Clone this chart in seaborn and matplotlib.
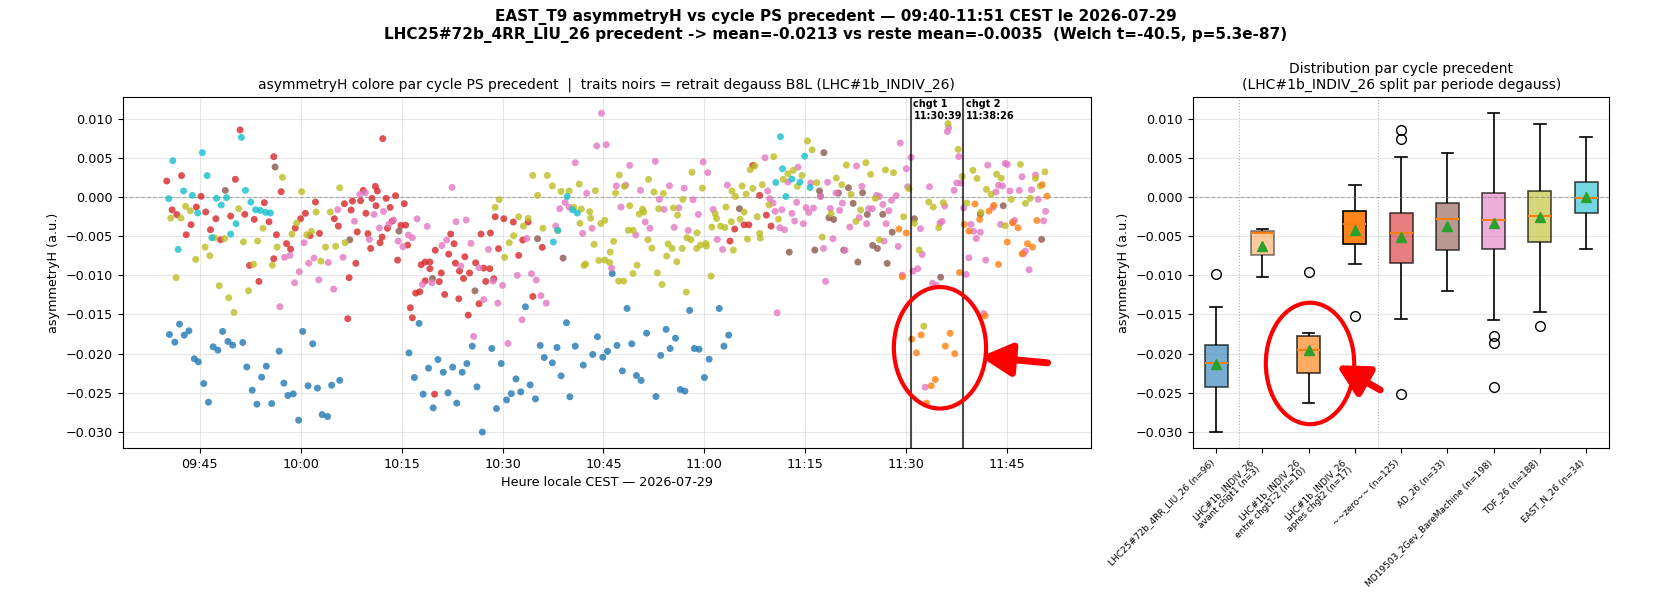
import pandas as pd
import seaborn as sns
import matplotlib.pyplot as plt
import matplotlib.dates as mdates
from matplotlib.patches import Ellipse
from matplotlib.colors import to_rgba

# times = minutes after 09:40 CEST, values = asymmetryH x 1e-3
lhc25_t = [0.5, 1.3, 2.0, 2.7, 3.4, 4.2, 4.8, 5.6, 6.3, 7.0, 7.7, 8.4, 9.2, 9.9, 11.4, 12.0, 12.8, 13.5, 14.2, 14.9,
           15.7, 16.8, 17.5, 18.1, 18.9, 19.7, 20.3, 21.1, 21.8, 22.5, 23.2, 24.0, 24.6, 25.8,
           36.1, 36.9, 37.6, 38.2, 39.0, 39.7, 40.4, 41.2, 41.9, 42.6, 43.2, 44.0, 44.7, 45.5, 46.2, 48.4,
           49.1, 49.8, 50.6, 51.3, 52.0, 52.7, 53.4, 54.1, 54.9, 55.6, 56.2, 57.4, 58.1, 58.7, 59.5, 60.0, 47.0,
           60.8, 62.0, 63.4, 64.1, 64.9, 65.6, 66.3, 67.0, 67.8, 68.5, 69.2, 69.9, 70.6, 71.4, 72.8, 73.5,
           74.3, 74.9, 75.7, 76.4, 77.1, 77.8, 78.5, 79.2, 80.0, 80.7, 82.2, 82.9, 83.6]
lhc25_v = [-17.55, -18.53, -16.23, -17.63, -17.08, -20.65, -21.04, -23.81, -26.19, -19.12, -19.55, -17.16, -18.44,
           -18.91, -18.57, -21.7, -24.66, -26.45, -23.0, -21.6, -26.37, -19.68, -23.76, -25.34, -25.13, -28.49,
           -17.16, -24.1, -18.74, -24.4, -27.77, -28.02, -24.02, -23.4,
           -19.9, -23.04, -16.14, -25.17, -21.85, -26.92, -20.75, -22.37, -25.0, -21.72, -26.31, -22.37, -21.26,
           -19.04, -24.23, -19.34, -27.0, -21.26, -25.9, -25.1, -23.22, -24.87, -14.02, -23.98, -25.77, -18.95,
           -20.49, -21.17, -19.21, -22.83, -16.05, -25.5, -30.0,
           -19.04, -21.46, -20.1, -17.84, -20.45, -19.7, -9.77, -18.95, -22.2, -14.23, -18.74, -22.79, -23.42,
           -17.38, -25.47, -20.22, -16.9, -19.34, -18.02, -24.57, -24.78, -14.48, -19.34, -19.43, -23.04, -20.7,
           -14.23, -19.04, -17.63]

indiv_t = [108.9, 109.4, 110.0, 110.8, 111.5, 112.2, 113.0, 113.7, 114.3, 115.8, 116.5, 117.2, 117.9,
           118.6, 119.3, 120.2, 120.9, 121.7, 122.3, 123.0, 123.7, 125.0, 125.8, 126.6, 127.2, 128.0, 128.75,
           129.4, 130.2, 130.9]
indiv_v = [-4.1, -10.2, -4.6, -18.14, -19.9, -17.6, -26.3, -24.1, -23.3, -19.04, -17.4, -20.0, -9.64,
           -3.5, -4.36, -0.9, -2.87, -15.17, -1.8, -1.08, -8.6, -5.76, -3.3, -3.93, -7.25, -5.97, -6.4,
           -3.0, 1.56, 0.1]

zero_t = [0.1, 0.9, 1.6, 2.3, 3.0, 3.7, 4.5, 5.2, 5.9, 6.6, 7.4, 8.1, 9.6, 10.3, 11.0, 11.7, 12.4, 13.1, 13.8,
          14.6, 15.3, 16.0, 16.4, 16.0, 17.1, 17.9, 18.5, 19.2, 20.0, 20.7, 21.4, 22.2, 22.8, 25.0, 25.6,
          26.5, 27.2, 27.0, 27.5, 27.7, 28.2, 28.4, 28.9, 29.3, 29.7, 30.0, 30.4, 30.6, 31.1, 31.4, 31.2, 31.8,
          32.1, 32.2, 32.7, 32.9, 33.3, 33.6, 34.1, 34.4, 34.9, 35.4, 35.6, 35.9, 36.3, 36.6, 37.1, 37.7, 37.9,
          38.5, 38.5, 39.2, 39.2, 40.0, 40.6, 40.9, 41.4, 42.0, 42.3, 42.8, 43.0, 43.5, 43.6, 44.2, 44.4, 45.1,
          44.9, 46.0, 46.5, 46.8, 47.2, 47.5, 48.1, 48.2, 48.7, 48.9, 49.4, 50.2, 51.6, 52.4, 53.0, 53.8, 54.5,
          55.9, 39.9,
          83.8, 84.5, 85.9, 86.6, 87.2, 88.2, 89.2, 89.9]
zero_v = [2.03, -1.65, -2.25, 2.72, -4.82, -3.54, -1.29, 0.08, -1.92, -4.18, -2.78, -5.46, -2.44, 2.25, 8.55,
          -2.22, -8.74, -2.86, -10.78, -0.73, -3.16, 5.14, -4.82, -7.89, 0.67, -5.96, -6.65, -3.97, -2.78, -2.09,
          -4.94, -0.65, -4.65, -2.78, -3.72,
          -0.86, -10.3, -15.54, -1.67, -0.52, -8.47, -4.46, -0.48, 0.84, -2.09, -4.69, -6.57, -0.18, 1.35, 0.76,
          -1.12, -5.84, -5.12, 7.44, -0.18, -4.0, -1.33, -3.08, 0.16, -8.06, -3.63, -0.86, -3.59, -6.14, -14.14,
          -15.42, -12.27, -12.1, -8.65, -8.3, -10.7, -8.3, -9.16, -6.8, -10.8, -9.7, -12.44, -7.3, -4.73, -5.97,
          -8.44, -13.0, -9.46, -10.4, -7.63, -9.7, -15.08, -8.4, -13.63, -4.73, -9.08, -10.78, -9.16, -4.6,
          -10.44, -2.53, -6.6, -2.78, -3.2, -7.46, -5.5, -3.2, -12.7, -6.43, -25.17,
          -5.63, -4.1, -3.56, -3.56, 4.03, 0.2, -2.32, -3.72]

ad_t = [8.8, 16.2, 27.3, 34.6, 39.6, 45.9, 55.2, 59.0, 85.2, 92.6,
        97.75, 96.4, 97.1, 97.25, 98.5, 99.2, 99.9, 100.7, 101.4, 102.1, 102.8, 103.5, 104.2, 105.0, 105.7,
        106.5, 107.9, 107.15, 111.2, 115.1, 121.0, 124.4, 130.1]
ad_v = [0.84, 3.82, -5.47, -4.36, -10.4, -11.98, -5.33, -7.8, -1.5, -7.04,
        5.65, -6.78, 0.76, 0.1, -2.65, -2.87, 0.5, -6.78, 1.17, -0.82, -8.31, 0.54, -2.23, -6.18, -6.57,
        -2.22, -4.5, -8.48, -2.78, -10.24, -2.2, -1.12, -5.42]

md_t = [16.9, 17.6, 18.4, 19.1, 19.8, 20.5, 21.2, 22.0, 22.7, 24.1, 24.9, 25.5,
        26.3, 28.0, 28.8, 29.6, 30.2, 30.9, 31.7, 32.3, 33.1, 33.8, 34.5, 35.2, 36.0, 36.6, 37.3, 38.1, 38.8,
        39.5, 41.0, 41.7, 42.5, 43.1, 43.8, 44.6, 45.3, 45.7, 46.5, 47.2, 47.9, 48.6, 49.3, 50.0, 50.8, 52.2,
        52.9, 53.6, 54.3, 55.0, 55.7, 56.5, 57.9, 58.5, 59.3, 59.9,
        60.8, 61.9, 62.5, 63.3, 64.0, 64.7, 65.4, 66.2, 66.9, 67.6, 68.3, 68.9, 69.8, 70.5, 71.2, 71.9, 72.7,
        73.3, 74.0, 74.8, 75.5, 76.2, 77.0, 77.6, 78.3, 79.1, 79.8, 80.5, 81.3, 81.9, 82.7, 83.4, 89.0, 89.4,
        89.7, 90.2, 90.5, 90.8, 91.2, 91.5, 91.9, 92.4, 93.0, 93.4, 93.7, 93.9,
        94.7, 95.1, 95.5, 95.8, 96.2, 97.25, 97.7, 98.0, 98.3, 98.7, 99.1, 99.55, 100.1, 100.5, 100.9, 101.6,
        102.6, 103.0, 103.4, 104.1, 104.4, 104.95, 105.6, 106.0,
        106.5, 106.7, 107.0, 107.4, 107.8, 108.5, 109.1, 108.8, 109.4, 110.0, 110.2, 110.7, 111.0, 111.7,
        112.1, 112.35, 113.45, 113.9, 114.5, 115.0, 115.3, 115.7, 116.1, 116.3, 117.1, 117.5, 117.8, 118.1,
        118.5, 118.9, 119.3, 119.6, 120.0, 120.4, 121.0, 121.5, 121.8, 122.1, 122.9, 123.3, 123.7, 124.0,
        124.3, 124.7, 125.0, 125.4, 125.8, 126.1, 126.8, 127.2, 127.4, 127.7, 128.25, 128.6, 129.2, 129.6,
        130.4, 130.7, 112.8]
md_v = [-14.0, -7.71, -7.46, -10.95, -9.54, -5.84, -8.45, -7.8, -10.58, -8.36, -11.77, -1.63,
        -7.7, -3.1, 0.33, 0.54, -5.42, -2.23, -3.97, -1.85, -3.5, -2.95, -5.63, -6.35, -4.86, -5.2, -2.8,
        -11.17, -3.76, -10.95, -6.2, -5.5, 1.22, -3.16, -8.82, -2.95, -5.93, -17.8, -9.04, -13.1, -6.7,
        -10.74, -13.55, -11.29, -18.7, -10.0, -15.67, -5.3, -9.8, -10.6, -12.6, -13.55, -3.72, -1.5, -0.7, -1.3,
        4.37, -4.65, 0.46, -4.0, 6.5, 10.68, 6.67, -9.08, 1.4, -1.29, 1.51, 4.03, -4.86, 0.84, -3.2, -4.0,
        4.54, -0.31, -1.59, 1.43, -3.88, -1.4, 1.13, -4.27, -0.35, -2.23, 4.46, 3.1, -1.59, -5.42, -6.7, 1.51,
        5.0, 0.76, -0.22, -0.77, -1.84, -14.79, -3.92, -1.63, -4.18, 1.9, -2.1, -3.07, -0.69, 3.8,
        -3.42, -1.37, -1.97, 1.78, -1.41, 0.06, -6.57, -10.78, 1.87, -1.46, -5.33, 0.5, -1.72, -0.79, -6.82,
        -3.84, 3.95, -2.65, 1.35, -3.42, -1.5, -1.5, 0.2, 0.06,
        -0.96, -5.63, -3.41, -1.76, -0.43, 0.16, 6.88, -6.31, -9.97, 3.6, 1.3, 5.05, -9.46, -9.16, -4.05,
        -7.33, 1.3, -11.0, -11.3, -3.33, -3.12, -1.16, 8.33, 8.84, 0.84, 1.78, 5.16, 1.78, -1.41, -9.89,
        -7.76, -3.5, -4.38, -5.3, -4.5, -14.87, -8.06, 4.06, -1.33, 0.63, 1.49, -3.5, 1.4, 4.28, 4.15, 0.76,
        -3.2, -3.0, 0.84, 2.58, -7.25, -6.9, -9.3, 0.92, 2.79, -0.31, -3.04, -1.84, -24.28]

tof_t = [0.7, 1.5, 2.2, 2.9, 3.6, 4.4, 5.8, 6.5, 7.2, 7.9, 8.7, 9.3, 10.1, 10.8, 11.5, 12.25, 13.0, 13.6, 14.4,
         15.8, 16.5, 17.3, 18.7, 19.4, 20.15, 20.9, 21.6, 22.3, 23.0, 23.7, 24.4, 25.2, 25.8,
         26.6, 48.9, 49.5, 50.3, 51.0, 51.65, 52.4, 53.1, 53.8, 54.5, 55.2, 56.0, 56.65, 57.4, 58.2, 58.7,
         59.9, 60.6, 61.4, 61.7, 61.5, 62.1, 62.35, 62.95, 63.1, 63.6, 63.8, 64.3, 64.6, 65.2, 65.2, 65.9,
         66.0, 66.5, 66.8, 67.35, 67.25, 68.0, 68.1, 68.7, 68.9, 69.4, 69.4, 70.0, 70.3, 70.8, 71.0, 71.6,
         71.7, 72.2, 72.5, 73.0, 73.2, 73.7, 73.9, 74.4, 74.6, 75.2, 75.4, 75.9, 76.0, 76.7, 76.8, 77.3, 77.4,
         78.0, 78.15, 78.85, 78.9, 79.4, 79.7, 80.2, 80.3, 81.0, 81.1, 81.6, 81.8, 82.4, 83.05, 83.2, 84.0,
         84.1, 84.3, 84.6, 85.3, 85.6, 85.9, 86.2, 86.4, 86.8, 87.2, 87.5, 87.85, 88.2, 88.3, 88.6, 89.6,
         90.3, 91.0, 91.7, 92.4, 93.2, 93.8,
         94.5, 95.3, 96.0, 96.7, 97.5, 98.8, 99.6, 100.4, 101.1, 101.8, 102.5, 103.2, 104.0, 104.7, 105.4,
         106.0,
         106.9, 108.1, 109.6, 110.4, 111.2, 111.9, 113.35, 114.0, 114.8, 115.5, 116.2, 117.7, 118.3, 119.0,
         119.9, 120.5, 121.1, 121.9, 122.6, 123.4, 124.1, 124.7, 125.6, 126.95, 127.7, 128.4, 129.2, 129.9,
         130.6, 112.6]
tof_v = [-2.7, -10.3, -2.7, -1.2, -1.76, -7.97, -6.4, -7.5, -5.2, -11.33, -5.31, -12.87, -14.74, -1.5, -5.74,
         -11.97, -8.6, -5.63, -4.0, -8.7, -6.4, 2.5, -4.74, -3.34, 0.67, -4.82, -4.4, -1.93, -8.19, -6.4,
         -1.93, -6.3, 1.17,
         -5.84, -1.33, -0.35, -7.7, -5.84, -4.95, -2.53, -3.72, -2.74, 2.75, 0.2, -4.0, 2.75, 1.4, -4.3, 0.7,
         0.76, -1.33, 1.64, -1.55, -3.37, -8.74, -8.57, -1.88, -2.7, -6.05, 0.8, -8.1, -3.4, -2.98, -8.06,
         -8.36, -7.04, -5.67, 0.5, 2.8, -10.74, -10.74, 1.35, -4.25, -1.12, -4.25, -9.77, -8.7, -2.19, -1.55,
         -1.93, -5.46, 2.24, -6.53, 0.63, -9.7, -1.5, -11.17, 0.45, -7.55, -6.0, -6.57, -1.4, -8.27, -2.32,
         -6.57, -0.31, -12.14, -5.2, -5.46, 3.14, -6.57, -4.57, -6.14, 1.13, -5.93, -6.28, -10.1, -3.84,
         -2.15, -2.74, -3.72, -3.9, -1.29, -3.16, 0.76, -6.78, 0.06, -2.83, 1.4, -1.93, 0.37, -5.37, 3.48,
         1.09, 3.94, -2.53, -4.65, -5.25, 1.56, -1.03, 5.14, -2.83, 2.24, 2.95, 3.4, 1.35,
         2.75, 7.14, 6.0, 1.83, -5.12, -2.15, 2.41, 1.56, 4.07, 0.33, -3.12, -1.67, 4.37, 2.88, -0.18, -5.46,
         3.44, 3.1, -2.53, 1.05, -3.37, -6.78, -0.65, -1.29, -3.93, -0.73, 9.35, 6.07, 2.62, -0.78, 3.4,
         2.37, -1.97, 0.97, 0.33, 2.91, 2.4, -3.67, -0.31, 4.15, -0.82, -0.18, 2.37, 1.4, 3.2, -16.5]

eastn_t = [0.4, 1.0, 1.8, 2.6, 3.9, 4.7, 5.4, 6.1, 6.8, 7.5, 8.2, 9.0, 9.6, 10.4, 11.2, 11.8, 12.6, 13.3, 14.0,
           14.8, 15.5, 58.2, 57.55, 59.6, 60.4, 61.1, 91.3, 90.6, 91.6, 92.1, 93.0, 94.2, 94.9, 95.7]
eastn_v = [-0.22, 4.63, -6.7, 0.76, 0.2, -2.05, 5.65, 2.72, -5.2, -0.18, -1.03, -0.09, -4.74, -3.41, 7.6, 0.84,
           -0.65, -1.63, -1.72, -1.97, -2.05, -4.26, -5.75, 0.06, -1.63, -2.06, 7.69, 1.85, 3.6, 0.06, 2.28,
           1.89, 5.2, 1.2]

cycle_colors = {
    'LHC25#72b_4RR_LIU_26': '#1f77b4',
    'LHC#1b_INDIV_26': '#ff7f0e',
    '~~zero~~': '#d62728',
    'AD_26': '#8c564b',
    'MD19503_2Gev_BareMachine': '#e377c2',
    'TOF_26': '#bcbd22',
    'EAST_N_26': '#17becf',
}

box_order = ['LHC25#72b_4RR_LIU_26', 'avant', 'entre', 'apres', '~~zero~~', 'AD_26',
             'MD19503_2Gev_BareMachine', 'TOF_26', 'EAST_N_26']
box_labels = ['LHC25#72b_4RR_LIU_26 (n=96)', 'LHC#1b_INDIV_26\navant chgt1 (n=3)',
              'LHC#1b_INDIV_26\nentre chgt1-2 (n=10)', 'LHC#1b_INDIV_26\napres chgt2 (n=17)',
              '~~zero~~ (n=125)', 'AD_26 (n=33)', 'MD19503_2Gev_BareMachine (n=198)', 'TOF_26 (n=188)',
              'EAST_N_26 (n=34)']
box_colors = ['#1f77b4', '#ff7f0e', '#ff7f0e', '#ff7f0e', '#d62728', '#8c564b', '#e377c2', '#bcbd22', '#17becf']
box_alpha = [0.6, 0.4, 0.65, 0.95, 0.6, 0.6, 0.6, 0.6, 0.6]

base = pd.Timestamp('2026-07-29 09:40:00')
chgt1 = pd.Timestamp('2026-07-29 11:30:39')
chgt2 = pd.Timestamp('2026-07-29 11:38:26')

series = [
    ('LHC25#72b_4RR_LIU_26', lhc25_t, lhc25_v),
    ('~~zero~~', zero_t, zero_v),
    ('AD_26', ad_t, ad_v),
    ('MD19503_2Gev_BareMachine', md_t, md_v),
    ('TOF_26', tof_t, tof_v),
    ('EAST_N_26', eastn_t, eastn_v),
    ('LHC#1b_INDIV_26', indiv_t, indiv_v),
]
frames = []
for name, t, v in series:
    frames.append(pd.DataFrame({'cycle': name, 'minute': t, 'asym': v}))
df = pd.concat(frames, ignore_index=True)
df['asym'] = df['asym'] / 1000.0
df['time'] = base + pd.to_timedelta(df['minute'], unit='min')

df['box'] = df['cycle']
m = df['cycle'] == 'LHC#1b_INDIV_26'
df.loc[m & (df['time'] < chgt1), 'box'] = 'avant'
df.loc[m & (df['time'] >= chgt1) & (df['time'] < chgt2), 'box'] = 'entre'
df.loc[m & (df['time'] >= chgt2), 'box'] = 'apres'

plt.rcParams['font.size'] = 9.2

fig = plt.figure(figsize=(16.72, 5.97), dpi=100)
ax1 = fig.add_axes([0.0734, 0.2496, 0.5791, 0.5874])
ax2 = fig.add_axes([0.7135, 0.2496, 0.2490, 0.5874])

# ---- left: time series
sns.scatterplot(data=df, x='time', y='asym', hue='cycle', palette=cycle_colors, s=25, alpha=0.8,
                linewidth=0, legend=False, ax=ax1, zorder=3)
ax1.axhline(0, color='gray', ls='--', lw=0.8, alpha=0.6)
for tc, lab in [(chgt1, 'chgt 1\n11:30:39'), (chgt2, 'chgt 2\n11:38:26')]:
    ax1.axvline(tc, color='k', lw=1.5, alpha=0.7, zorder=4)
    ax1.text(mdates.date2num(tc + pd.Timedelta(seconds=25)), 0.995, lab, transform=ax1.get_xaxis_transform(),
             va='top', ha='left', fontsize=7, fontweight='bold')
ax1.xaxis.set_major_locator(mdates.MinuteLocator(byminute=[0, 15, 30, 45]))
ax1.xaxis.set_major_formatter(mdates.DateFormatter('%H:%M'))
ax1.grid(alpha=0.3)
ax1.set_xlabel('Heure locale CEST — 2026-07-29')
ax1.set_ylabel('asymmetryH (a.u.)')
ax1.set_title('asymmetryH colore par cycle PS precedent  |  traits noirs = retrait degauss B8L (LHC#1b_INDIV_26)',
              fontsize=10)

# ---- right: distributions
sns.boxplot(data=df, x='box', y='asym', order=box_order, hue='box', hue_order=box_order,
            palette=dict(zip(box_order, box_colors)), width=0.5, saturation=1, legend=False, ax=ax2,
            showmeans=True,
            meanprops=dict(marker='^', markerfacecolor='#2ca02c', markeredgecolor='#2ca02c', markersize=7.5),
            medianprops=dict(color='#ff7f0e', lw=1.5),
            flierprops=dict(marker='o', markerfacecolor='none', markeredgecolor='k', markersize=7, lw=1),
            whiskerprops=dict(color='k', lw=1.2), capprops=dict(color='k', lw=1.2),
            boxprops=dict(edgecolor='k', lw=1.2))
for patch in ax2.patches:
    ext = patch.get_path().get_extents()
    i = int(round((ext.x0 + ext.x1) / 2))
    if 0 <= i < len(box_order):
        patch.set_facecolor(to_rgba(box_colors[i], box_alpha[i]))
        patch.set_edgecolor(to_rgba('k', min(1.0, box_alpha[i] + 0.1)))
ax2.axhline(0, color='gray', ls='--', lw=0.8, alpha=0.6)
for xs in [0.5, 3.5]:
    ax2.axvline(xs, color='gray', ls=':', lw=0.8, alpha=0.6)
ax2.set_xticks(range(len(box_order)))
ax2.set_xticklabels(box_labels, rotation=45, ha='right', fontsize=6.5)
ax2.set_xlim(-0.5, len(box_order) - 0.5)
ax2.set_ylim(ax1.get_ylim())
ax2.grid(axis='y', alpha=0.3)
ax2.set_xlabel('')
ax2.set_ylabel('asymmetryH (a.u.)')
ax2.set_title('Distribution par cycle precedent\n(LHC#1b_INDIV_26 split par periode degauss)', fontsize=10)

# ---- red highlight marks
arrow_kw = dict(arrowstyle='-|>,head_length=0.85,head_width=0.45', color='red', lw=5,
                mutation_scale=22, capstyle='round')
t_mid = mdates.date2num(base + pd.Timedelta(minutes=115.0))
ax1.add_patch(Ellipse((t_mid, -0.01925), 13.7 / 1440, 0.0155, fill=False, edgecolor='red', lw=3, zorder=6))
ax1.annotate('', xy=(mdates.date2num(base + pd.Timedelta(minutes=120.6)), -0.02035),
             xytext=(mdates.date2num(base + pd.Timedelta(minutes=131.4)), -0.0212),
             arrowprops=arrow_kw, zorder=6)
ax2.add_patch(Ellipse((2.03, -0.02125), 1.91, 0.0155, fill=False, edgecolor='red', lw=3, zorder=6))
ax2.annotate('', xy=(2.55, -0.0213), xytext=(3.6, -0.0248), arrowprops=arrow_kw, zorder=6)

fig.suptitle('EAST_T9 asymmetryH vs cycle PS precedent — 09:40-11:51 CEST le 2026-07-29\n'
             'LHC25#72b_4RR_LIU_26 precedent -> mean=-0.0213 vs reste mean=-0.0035  (Welch t=-40.5, p=5.3e-87)',
             fontsize=11, fontweight='bold', y=0.985)

fig.savefig('out.png', dpi=100)
